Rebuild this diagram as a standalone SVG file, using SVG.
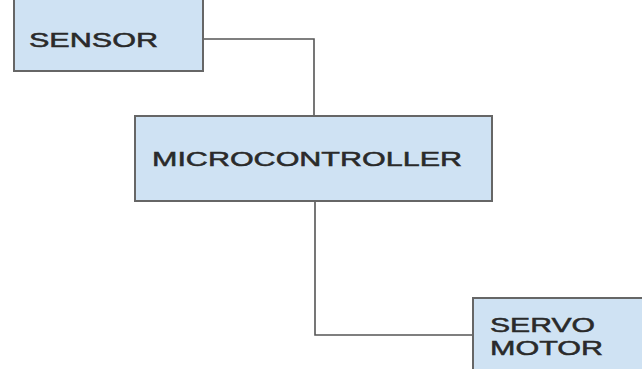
<svg xmlns="http://www.w3.org/2000/svg" width="642" height="369" viewBox="0 0 642 369">
<style>
.box{fill:#cfe2f3;stroke:#666;stroke-width:2}
.lbl{font-family:"Liberation Sans",Arial,sans-serif;font-size:20px;fill:#2a2a2a;stroke:#2a2a2a;stroke-width:0.5}
.wire{fill:none;stroke:#555;stroke-width:1.6}
</style>
<rect width="642" height="369" fill="#fff"/>
<g id="connectors">
<path class="wire" d="M203 39 H314 V116"/>
<path class="wire" d="M315 201 V335 H473"/>
</g>
<g id="sensor">
<rect class="box" x="14" y="-10" width="189" height="81"/>
<text class="lbl" x="29" y="47" textLength="129" lengthAdjust="spacingAndGlyphs">SENSOR</text>
</g>
<g id="microcontroller">
<rect class="box" x="135" y="116" width="357" height="85"/>
<text class="lbl" x="152" y="166" textLength="310" lengthAdjust="spacingAndGlyphs">MICROCONTROLLER</text>
</g>
<g id="servo">
<rect class="box" x="473" y="298" width="180" height="80"/>
<text class="lbl" x="490" y="332" textLength="105" lengthAdjust="spacingAndGlyphs">SERVO</text>
<text class="lbl" x="490" y="355" textLength="113" lengthAdjust="spacingAndGlyphs">MOTOR</text>
</g>
</svg>
